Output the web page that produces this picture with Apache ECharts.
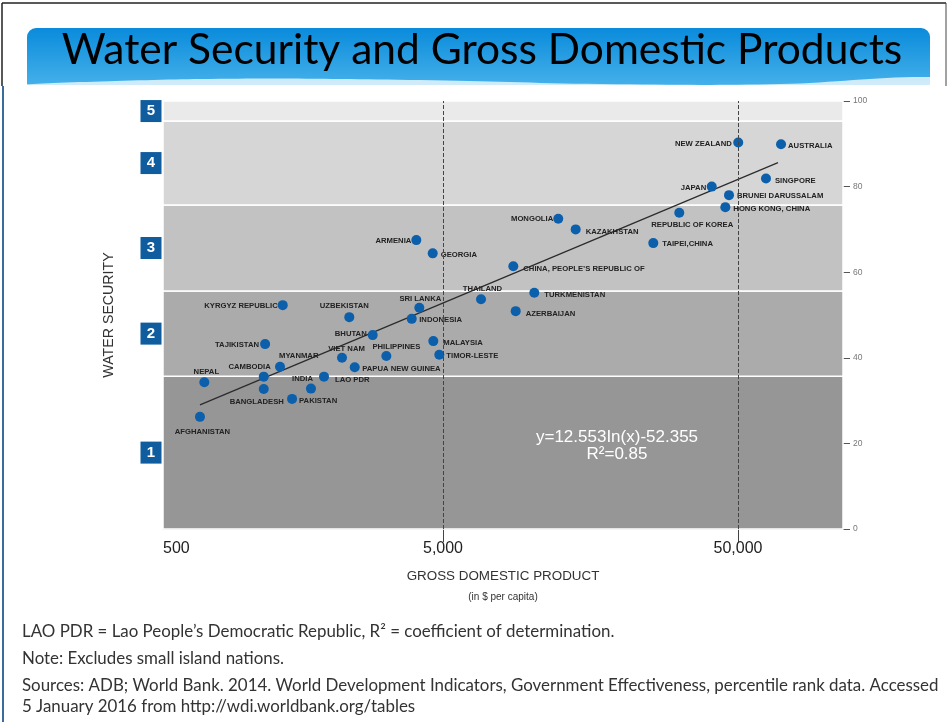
<!DOCTYPE html>
<html>
<head>
<meta charset="utf-8">
<script src="https://cdn.jsdelivr.net/npm/echarts@6/dist/echarts.min.js"></script>
<style>
html,body{margin:0;padding:0;background:#fff;}
#chart{width:950px;height:722px;}
</style>
</head>
<body>
<div id="chart"></div>
<script>
// ---------------- DATA ----------------
const countries = ['AFGHANISTAN','NEPAL','CAMBODIA','BANGLADESH','TAJIKISTAN','MYANMAR','KYRGYZ REPUBLIC','PAKISTAN','INDIA','LAO PDR','VIET NAM','UZBEKISTAN','PAPUA NEW GUINEA','BHUTAN','PHILIPPINES','INDONESIA','ARMENIA','SRI LANKA','GEORGIA','MALAYSIA','TIMOR-LESTE','THAILAND','CHINA, PEOPLE\u2019S REPUBLIC OF','AZERBAIJAN','TURKMENISTAN','MONGOLIA','KAZAKHSTAN','TAIPEI,CHINA','REPUBLIC OF KOREA','JAPAN','HONG KONG, CHINA','BRUNEI DARUSSALAM','NEW ZEALAND','SINGPORE','AUSTRALIA'];
const gdpPerCapita = [750,776,1234,1234,1247,1401,1431,1539,1784,1975,2273,2406,2510,2888,3213,3917,4060,4156,4614,4636,4858,6727,8656,8819,10197,12294,14085,25815,31620,40730,45300,46620,50100,62220,69970];
const waterSecurity = [26.2,34.3,35.6,32.7,43.2,37.9,52.3,30.4,32.8,35.6,40.0,49.5,37.8,45.3,40.4,49.1,67.5,51.7,64.4,43.9,40.7,53.7,61.4,50.9,55.2,72.5,70.0,66.8,73.9,80.0,75.2,78.0,90.3,81.9,89.9];

// trend line end points
const trendGdp = [750, 68330];
const trendWs = [29.0, 85.6];

// water security bands
const bandEdges = [0, 35.7, 55.6, 75.7, 95.3, 100];
const bandLevels = ['1','2','3','4','5'];

// axis tick labels
const xTickValues = [500, 5000, 50000];
const xTickLabels = ['500', '5,000', '50,000'];

const equationText = 'y=12.553In(x)-52.355';
const r2Text = 'R\u00b2=0.85';

// ---------------- STYLE ----------------
const xAxisMinGdp = 562, xAxisMaxGdp = 113500;
const bandColors = ['#969696','#ababab','#c2c2c2','#d6d6d6','#eaeaea'];
// label placement [dx, dy, align] relative to dot centre
const labelPlace = [
 [2.5,15,'center'],[2,-10,'center'],[7,-10,'right'],[-7,13,'center'],[-6,1,'right'],
 [-1,-11,'left'],[-5,1,'right'],[7,2,'left'],[2,-10,'right'],[11,3,'left'],
 [4.5,-9,'center'],[-5,-11,'center'],[7.5,2,'left'],[-6,-1,'right'],[10,-9,'center'],
 [7.5,1,'left'],[-5,1,'right'],[1,-9,'center'],[8,2,'left'],[10,1.5,'left'],
 [7,1,'left'],[1.5,-10,'center'],[10,3,'left'],[10,3,'left'],[10,2,'left'],
 [-5,0,'right'],[10,2,'left'],[9,1,'left'],[13,12.5,'center'],[-5.5,1,'right'],
 [8,2,'left'],[8,1,'left'],[-6.5,1,'right'],[9,2,'left'],[7,2,'left']
];

const L = Math.log10;
const xMin = L(xAxisMinGdp), xMax = L(xAxisMaxGdp);
const sans = '"Liberation Sans",Arial,sans-serif';

const points = countries.map((c, i) => ({
  name: c,
  value: [L(gdpPerCapita[i]), waterSecurity[i]],
  label: {
    show: true,
    position: [5 + labelPlace[i][0], 5 + labelPlace[i][1]],
    align: labelPlace[i][2],
    verticalAlign: 'middle'
  }
}));

const bandAreas = bandEdges.slice(0, -1).map((e, i) => [
  { yAxis: e, itemStyle: { color: bandColors[i] } },
  { yAxis: bandEdges[i + 1] }
]);
const bandMids = bandEdges.slice(0, -1).map((e, i) => (e + bandEdges[i + 1]) / 2);

const xLabelVals = xTickValues.map(v => Math.max(L(v), xMin));

const chart = echarts.init(document.getElementById('chart'));
chart.setOption({
  animation: false,
  backgroundColor: '#ffffff',
  grid: { left: 163, right: 107, top: 101, bottom: 193 },
  xAxis: {
    type: 'value', min: xMin, max: xMax,
    axisLine: { show: true, lineStyle: { color: '#d0d0d0', width: 1 } },
    axisTick: { show: true, customValues: [L(5000), L(50000)], length: 13, lineStyle: { color: '#444' } },
    splitLine: { show: false },
    axisLabel: {
      customValues: xLabelVals,
      alignMinLabel: 'left',
      formatter: v => { const i = xLabelVals.findIndex(t => Math.abs(t - v) < 1e-6); return i >= 0 ? xTickLabels[i] : ''; },
      fontSize: 16, color: '#222', margin: 12, fontFamily: sans
    },
    name: '{t|GROSS DOMESTIC PRODUCT}\n{s|(in $ per capita)}',
    nameLocation: 'middle', nameGap: 37,
    nameTextStyle: {
      rich: {
        t: { fontSize: 13.4, color: '#333', lineHeight: 20, fontFamily: sans },
        s: { fontSize: 10, color: '#333', lineHeight: 22, fontFamily: sans }
      }
    }
  },
  yAxis: [
    {
      type: 'value', min: 0, max: 100, position: 'left',
      axisLine: { show: false }, axisTick: { show: false }, splitLine: { show: false },
      axisLabel: {
        customValues: bandMids,
        formatter: v => { const i = bandMids.findIndex(t => Math.abs(t - v) < 1e-6); return i >= 0 ? bandLevels[i] : ''; },
        color: '#fff', fontWeight: 'bold', fontSize: 15, fontFamily: sans,
        backgroundColor: '#0f5c9e', width: 21, height: 22, lineHeight: 22, align: 'center',
        margin: 12, padding: 0
      },
      name: 'WATER SECURITY', nameLocation: 'middle', nameGap: 47, nameRotate: 90,
      nameTextStyle: { fontSize: 14.2, color: '#333', fontFamily: sans }
    },
    {
      type: 'value', min: 0, max: 100, interval: 20, position: 'right',
      axisLine: { show: false },
      axisTick: { show: true, length: 7, lineStyle: { color: '#555' } },
      splitLine: { show: false },
      axisLabel: { fontSize: 8.5, color: '#777', margin: 10, fontFamily: sans }
    }
  ],
  series: [
    {
      type: 'scatter', data: [], z: 1, silent: true,
      markArea: { silent: true, itemStyle: { borderColor: '#ffffff', borderWidth: 1.5 }, data: bandAreas },
      markLine: {
        silent: true, symbol: 'none', label: { show: false },
        lineStyle: { color: '#444', type: [4, 2], width: 1 },
        data: [{ xAxis: L(5000) }, { xAxis: L(50000) }]
      }
    },
    {
      type: 'line', z: 3, symbol: 'none', silent: true,
      data: trendGdp.map((g, i) => [L(g), trendWs[i]]),
      lineStyle: { color: '#2b2b2b', width: 1.2 }
    },
    {
      type: 'scatter', z: 4, symbolSize: 10,
      itemStyle: { color: '#0b5fab', opacity: 1 },
      label: { formatter: p => p.name, fontSize: 7.7, color: '#222', fontFamily: sans, fontWeight: 'bold' },
      data: points
    }
  ],
  graphic: [
    { type: 'line', shape: { x1: 2, y1: 3, x2: 946, y2: 3 }, style: { stroke: '#222', lineWidth: 1.5 } },
    { type: 'line', shape: { x1: 2, y1: 3, x2: 2, y2: 86 }, style: { stroke: '#222', lineWidth: 1.5 } },
    { type: 'line', shape: { x1: 946, y1: 3, x2: 946, y2: 86 }, style: { stroke: '#444', lineWidth: 1 } },
    { type: 'line', shape: { x1: 3, y1: 86, x2: 3, y2: 722 }, style: { stroke: '#3d6b9e', lineWidth: 2 } },
    { type: 'rect', shape: { x: 27, y: 28, width: 903, height: 57, r: [9, 9, 0, 0] },
      style: { fill: { type: 'linear', x: 0, y: 0, x2: 0, y2: 1, colorStops: [{ offset: 0, color: '#0a8bdb' }, { offset: 1, color: '#44b0ea' }] } } },
    { type: 'polygon', shape: { points: [[27, 85.5], [200, 79], [420, 80], [600, 84], [780, 84], [930, 77], [930, 85.5]], smooth: 0.4 },
      style: { fill: 'rgba(255,255,255,0.75)' } },
    { type: 'text', x: 482, y: 50, style: { text: 'Water Security and Gross Domestic Products', fill: '#000', font: '42.5px Lato, "Open Sans", sans-serif', align: 'center', verticalAlign: 'middle' } },
    { type: 'text', x: 617, y: 437, z: 10, style: { text: equationText, fill: '#fff', font: '17px ' + sans, align: 'center', verticalAlign: 'middle' } },
    { type: 'text', x: 617, y: 454, z: 10, style: { text: r2Text, fill: '#fff', font: '17px ' + sans, align: 'center', verticalAlign: 'middle' } },
    { type: 'text', x: 22, y: 632, style: { text: 'LAO PDR = Lao People\u2019s Democratic Republic, R\u00b2 = coefficient of determination.', fill: '#333', font: '16.9px Lato, sans-serif', verticalAlign: 'middle' } },
    { type: 'text', x: 22, y: 659, style: { text: 'Note: Excludes small island nations.', fill: '#333', font: '16.9px Lato, sans-serif', verticalAlign: 'middle' } },
    { type: 'text', x: 22, y: 686, style: { text: 'Sources: ADB; World Bank. 2014. World Development Indicators, Government Effectiveness, percentile rank data. Accessed', fill: '#333', font: '16.9px Lato, sans-serif', verticalAlign: 'middle' } },
    { type: 'text', x: 22, y: 707, style: { text: '5 January 2016 from http://wdi.worldbank.org/tables', fill: '#333', font: '16.9px Lato, sans-serif', verticalAlign: 'middle' } }
  ]
});
</script>
</body>
</html>
